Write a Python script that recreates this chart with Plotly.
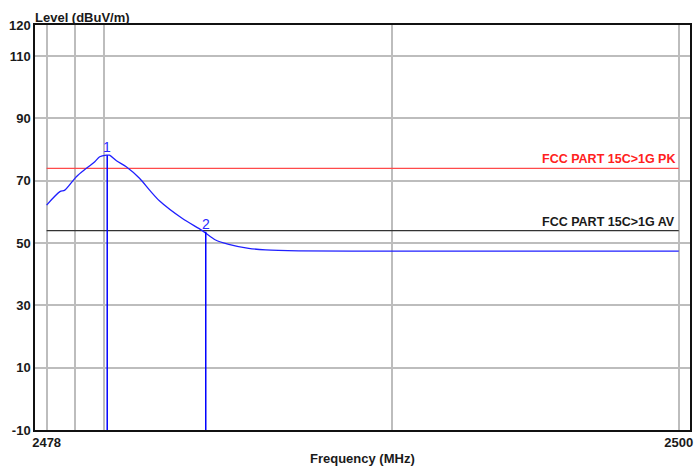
import numpy as np
import plotly.graph_objects as go

# Measured emission trace (frequency in MHz, level in dBuV/m)
freq_mhz = [2478.00, 2478.46, 2478.63, 2479.03, 2479.38, 2479.67, 2479.84, 2480.07,
            2480.18, 2480.42, 2480.76, 2481.22, 2481.57, 2481.91, 2482.71, 2483.40,
            2483.86, 2484.32, 2485.01, 2485.60, 2486.75, 2490.00, 2495.00, 2500.00]
level_dbuv = [62.2, 66.5, 67.0, 71.3, 74.0, 76.1, 77.7, 78.2,
              78.2, 76.4, 74.5, 70.8, 67.0, 63.6, 57.9, 54.0,
              51.0, 49.6, 48.3, 47.8, 47.5, 47.4, 47.4, 47.4]

# Markers
marker_ids = ["1", "2"]
marker_freq = [2480.10, 2483.52]
marker_level = [78.2, 53.6]

# Limit lines
limit_names = ["FCC PART 15C>1G PK", "FCC PART 15C>1G AV"]
limit_levels = [74, 54]
limit_colors = ["#ff4a4a", "#333333"]
limit_text_colors = ["#ff2020", "#1a1a1a"]

x_start, x_stop = 2478, 2500
y_ticks = [-10, 10, 30, 50, 70, 90, 110, 120]
x_grid = [2478, 2479, 2480, 2490, 2500]
x_labels = ["2478", "", "", "", "2500"]

FONT = "Liberation Sans, Arial, sans-serif"

fig = go.Figure()

# limit lines
for lvl, col in zip(limit_levels, limit_colors):
    fig.add_trace(go.Scatter(x=[x_start, x_stop], y=[lvl, lvl], mode="lines",
                             line=dict(color=col, width=1.3), hoverinfo="skip"))

# trace
fig.add_trace(go.Scatter(x=freq_mhz, y=level_dbuv, mode="lines",
                         line=dict(color="#1f1fff", width=1.3, shape="spline", smoothing=0.8),
                         hoverinfo="skip"))

# marker drop lines
for f, v in zip(marker_freq, marker_level):
    fig.add_trace(go.Scatter(x=[f, f], y=[-10, v], mode="lines",
                             line=dict(color="#0000ff", width=1.5), hoverinfo="skip"))

annotations = []
for mid, f, v in zip(marker_ids, marker_freq, marker_level):
    annotations.append(dict(x=np.log10(f), y=v, text=mid, showarrow=False,
                            xanchor="center", yanchor="bottom", yshift=-2,
                            font=dict(family=FONT, size=14, color="#2a2aff")))

for name, lvl, tc in zip(limit_names, limit_levels, limit_text_colors):
    annotations.append(dict(x=np.log10(x_stop), y=lvl, text="<b>%s</b>" % name,
                            showarrow=False, xanchor="right", yanchor="bottom",
                            xshift=-2, yshift=0,
                            font=dict(family=FONT, size=12.5, color=tc)))

annotations.append(dict(x=0, y=1, xref="paper", yref="paper", text="<b>Level (dBuV/m)</b>",
                        showarrow=False, xanchor="left", yanchor="bottom", yshift=-2, xshift=-2,
                        font=dict(family=FONT, size=13, color="#1a1a1a")))
annotations.append(dict(x=0.5, y=0, xref="paper", yref="paper", text="<b>Frequency (MHz)</b>",
                        showarrow=False, xanchor="center", yanchor="middle", yshift=-28,
                        font=dict(family=FONT, size=13, color="#1a1a1a")))

span = np.log10(x_stop) - np.log10(x_start)
x_range = [np.log10(x_start) - 0.0184 * span, np.log10(x_stop) + 0.0178 * span]

fig.update_layout(
    width=697, height=466,
    margin=dict(l=35, r=4, t=25, b=36),
    paper_bgcolor="white", plot_bgcolor="white",
    showlegend=False,
    annotations=annotations,
    xaxis=dict(type="log", range=x_range, tickmode="array", tickvals=x_grid,
               ticktext=x_labels, showgrid=True, gridcolor="#bdbdbd", gridwidth=1.5,
               ticks="", showline=True, mirror=True, linecolor="#111111", linewidth=1.5,
               zeroline=False,
               tickfont=dict(family=FONT, size=13, color="#1a1a1a", weight="bold")),
    yaxis=dict(range=[-10, 120], tickmode="array", tickvals=y_ticks,
               ticktext=[str(t) for t in y_ticks], showgrid=True, gridcolor="#bdbdbd",
               gridwidth=1.5, ticks="", showline=True, mirror=True, linecolor="#111111",
               linewidth=1.5, zeroline=False, ticklabelstandoff=0,
               tickfont=dict(family=FONT, size=13, color="#1a1a1a", weight="bold")),
)

fig.write_html("out.html")
